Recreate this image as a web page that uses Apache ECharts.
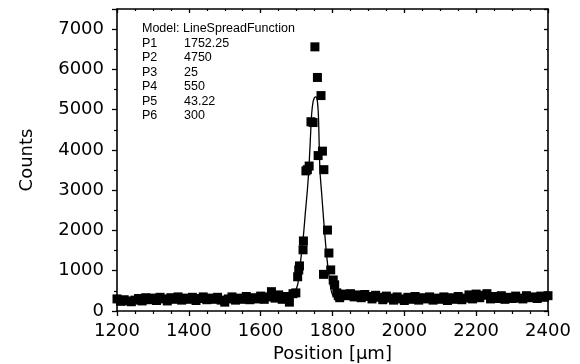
<!DOCTYPE html>
<html><head><meta charset="utf-8">
<script src="https://cdn.jsdelivr.net/npm/echarts@6/dist/echarts.min.js"></script>
<style>html,body{margin:0;padding:0;background:#fff}#c{width:580px;height:364px}</style>
</head><body><div id="c"></div>
<script>
// Measured points (Position [µm], Counts)
const posLeft = [1200,1210,1220,1230,1240,1250,1260,1270,1280,1290,1300,1310,1320,1330,1340,1350,1360,1370,1380,1390,1400,1410,1420,1430,1440,1450,1460,1470,1480,1490,1500,1510,1520,1530,1540,1550,1560,1570,1580,1590,1600,1610,1620,1630,1640,1650,1660,1670,1680,1690];
const cntLeft = [300,240,280,250,230,270,310,250,330,280,320,260,340,300,250,330,290,350,270,320,290,340,260,310,350,280,320,290,340,270,220,300,350,270,320,290,360,280,330,300,370,290,350,480,320,400,290,360,220,430];
const posPeak = [1698,1703,1706,1708,1718,1719,1726,1730,1735,1740,1746,1751,1758,1760,1768,1772,1776,1775,1786,1790,1795,1802,1806,1812,1816];
const cntPeak = [450,850,1020,1120,1520,1740,3480,3510,3600,4700,4680,6560,5800,3860,5350,3970,3510,910,2010,1440,1020,770,650,450,380];
const posRight = [1820,1830,1840,1850,1860,1870,1880,1890,1900,1910,1920,1930,1940,1950,1960,1970,1980,1990,2000,2010,2020,2030,2040,2050,2060,2070,2080,2090,2100,2110,2120,2130,2140,2150,2160,2170,2180,2190,2200,2210,2220,2230,2240,2250,2260,2270,2280,2290,2300,2310,2320,2330,2340,2350,2360,2370,2380,2390,2400];
const cntRight = [330,420,380,430,350,400,330,410,360,300,390,340,280,370,320,270,350,300,260,340,290,360,270,330,300,350,270,320,290,350,260,330,290,360,280,320,400,300,420,330,390,430,300,360,310,380,290,340,310,370,320,300,380,330,350,310,370,340,380];
// Fitted curve
const fitPos = [1680,1690,1695,1700,1704,1710,1718,1725,1730,1734,1738,1742,1746,1750,1754,1758,1761,1765,1770,1775,1780,1785,1792,1798,1805,1815,1825];
const fitCnt = [330,400,470,570,700,1150,1770,2500,3000,3500,4200,4900,5200,5300,5320,5200,4800,3500,2900,2300,1750,1270,750,450,350,310,300];
// Tick values
const xTicks = [1200,1400,1600,1800,2000,2200,2400];
const yTicks = [0,1000,2000,3000,4000,5000,6000,7000];
// Annotation
const modelName = 'Model: LineSpreadFunction';
const paramNames = ['P1','P2','P3','P4','P5','P6'];
const paramValues = ['1752.25','4750','25','550','43.22','300'];

const pts = [];
const allX = posLeft.concat(posPeak, posRight);
const allY = cntLeft.concat(cntPeak, cntRight);
for (let i = 0; i < allX.length; i++) pts.push([allX[i], allY[i]]);
const fit = fitPos.map((x, i) => [x, fitCnt[i]]);

const font = 'DejaVu Sans';
const axisCommon = {
  type: 'value',
  axisLine: { show: true, onZero: false, lineStyle: { color: '#000', width: 1.6 } },
  splitLine: { show: false },
  axisLabel: { color: '#000', fontFamily: font, fontSize: 18 },
};
const chart = echarts.init(document.getElementById('c'), null, { renderer: 'canvas' });
const graphics = [{ type: 'text', left: 142, top: 22, style: { text: modelName, font: '12.5px "Liberation Sans"', fill: '#000' } }];
paramNames.forEach((p, i) => {
  graphics.push({ type: 'text', left: 142, top: 37 + i * 14.4, style: { text: p, font: '12.5px "Liberation Sans"', fill: '#000' } });
  graphics.push({ type: 'text', left: 184, top: 37 + i * 14.4, style: { text: paramValues[i], font: '12.5px "Liberation Sans"', fill: '#000' } });
});
chart.setOption({
  animation: false,
  backgroundColor: '#fff',
  grid: { left: 117, right: 32, top: 9, bottom: 53, containLabel: false, outerBoundsMode: 'none' },
  xAxis: [
    Object.assign({}, axisCommon, {
      position: 'bottom', min: xTicks[0], max: xTicks[xTicks.length - 1], interval: 200,
      name: 'Position [µm]', nameLocation: 'middle', nameGap: 34,
      nameTextStyle: { color: '#000', fontFamily: font, fontSize: 18 },
      axisTick: { show: true, inside: false, length: 5, lineStyle: { color: '#000', width: 1.3 } },
      minorTick: { show: true, splitNumber: 4, length: 3, lineStyle: { color: '#000', width: 1.2 } },
      axisLabel: { color: '#000', fontFamily: font, fontSize: 18, margin: 11, formatter: v => String(v) }
    }),
    Object.assign({}, axisCommon, {
      position: 'top', min: xTicks[0], max: xTicks[xTicks.length - 1], interval: 200,
      axisTick: { show: true, inside: true, length: 4, lineStyle: { color: '#000', width: 1.3 } },
      minorTick: { show: true, splitNumber: 4, length: 2, lineStyle: { color: '#000', width: 1.2 } },
      axisLabel: { show: false }
    })
  ],
  yAxis: [
    Object.assign({}, axisCommon, {
      position: 'left', min: 0, max: 7500, interval: 1000,
      name: 'Counts', nameLocation: 'middle', nameGap: 81,
      nameTextStyle: { color: '#000', fontFamily: font, fontSize: 18 },
      axisTick: { show: true, inside: false, length: 5, lineStyle: { color: '#000', width: 1.3 } },
      minorTick: { show: true, splitNumber: 2, length: 3, lineStyle: { color: '#000', width: 1.2 } },
      axisLabel: { color: '#000', fontFamily: font, fontSize: 18, margin: 13, showMaxLabel: false,
        formatter: v => (yTicks.indexOf(v) >= 0 ? String(v) : '') }
    }),
    Object.assign({}, axisCommon, {
      position: 'right', min: 0, max: 7500, interval: 1000,
      axisTick: { show: true, inside: true, length: 4, lineStyle: { color: '#000', width: 1.3 } },
      minorTick: { show: true, splitNumber: 2, length: 2, lineStyle: { color: '#000', width: 1.2 } },
      axisLabel: { show: false }
    })
  ],
  series: [
    { type: 'scatter', data: pts, symbol: 'rect', symbolSize: 9, itemStyle: { color: '#000', opacity: 1 }, z: 3 },
    { type: 'line', data: fit, showSymbol: false, symbol: 'none', lineStyle: { color: '#000', width: 1.3 }, smooth: 0.3, z: 4 }
  ],
  graphic: graphics
});
</script>
</body></html>
